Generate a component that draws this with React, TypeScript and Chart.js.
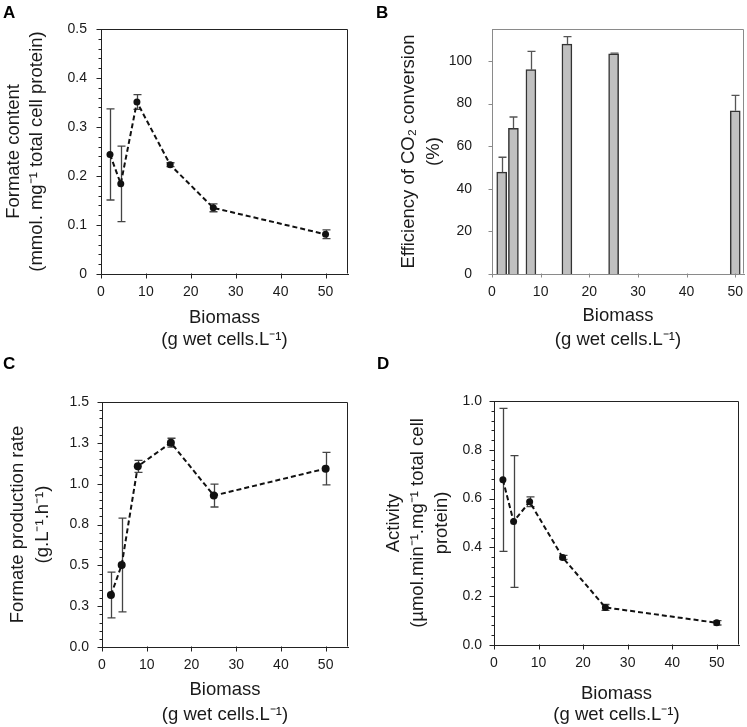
import React, { useEffect, useRef } from "react";
import { Chart, registerables } from "chart.js";

Chart.register(...registerables);

const FONT = "'Liberation Sans', Arial, Helvetica, sans-serif";
const TEXT = "#1a1a1a";

// ---- data ----
const biomass = [2, 4.4, 8, 15.4, 25, 50];
const formateContent = [0.244, 0.184, 0.351, 0.223, 0.135, 0.081];
const formateContentErr = [0.093, 0.077, 0.015, 0.004, 0.008, 0.009];
const efficiency = [47.8, 68.4, 95.9, 107.9, 103.4, 76.6];
const efficiencyErr = [7.0, 5.3, 8.6, 3.5, 0.3, 7.2];
const productionRate = [0.318, 0.502, 1.106, 1.251, 0.927, 1.092];
const productionRateErr = [0.14, 0.287, 0.037, 0.027, 0.07, 0.1];
const activity = [0.677, 0.506, 0.587, 0.359, 0.154, 0.091];
const activityErr = [0.293, 0.27, 0.02, 0.008, 0.012, 0.009];

// ---- tick labels ----
const xTickLabels = ["0", "10", "20", "30", "40", "50"];
const contentTickLabels = ["0", "0.1", "0.2", "0.3", "0.4", "0.5"];
const efficiencyTickLabels = ["0", "20", "40", "60", "80", "100"];
const rateTickLabels = ["0.0", "0.3", "0.5", "0.8", "1.0", "1.3", "1.5"];
const activityTickLabels = ["0.0", "0.2", "0.4", "0.6", "0.8", "1.0"];

// ---- titles ----
const xTitle = ["Biomass", "(g wet cells.L\u207B\u00B9)"];
const contentTitle = ["Formate content", "(mmol. mg\u207B\u00B9 total cell protein)"];
const efficiencyTitle = ["Efficiency of CO\u2082 conversion", "(%)"];
const rateTitle = ["Formate production rate", "(g.L\u207B\u00B9.h\u207B\u00B9)"];
const activityTitle = ["Activity", "(\u00B5mol.min\u207B\u00B9.mg\u207B\u00B9 total cell", "protein)"];

type Spec = {
  letter: string;
  left: number;
  top: number;
  w: number;
  h: number;
  area: { l: number; t: number; r: number; b: number };
  kind: "line" | "bar";
  values: number[];
  errors: number[];
  frame: string;
  errColor: string;
  pointRadius: number;
  xMax: number;
  yMax: number;
  yStep: number;
  yMajorEvery: number;
  yLabels: string[];
  yMajorLen: number;
  yMinorLen: number;
  yGap: number;
  xTickLen: number;
  xGap: number;
  yTitle: string[];
  yTitleLH: number;
  yTitlePad: number;
  xTitleLH: number;
  xTitlePad: number;
  letterTop: number;
  letterLeft: number;
};

function errorBarPlugin(spec: Spec) {
  const draw = (chart: any) => {
    const xs = chart.scales.x;
    const ys = chart.scales.y;
    const ctx = chart.ctx;
    const half = 4;
    ctx.save();
    ctx.strokeStyle = spec.errColor;
    ctx.lineWidth = 1.3;
    spec.values.forEach((v, i) => {
      const e = spec.errors[i];
      const x = Math.round(xs.getPixelForValue(biomass[i])) + 0.5;
      const yTop = ys.getPixelForValue(v + e);
      const yBot = ys.getPixelForValue(spec.kind === "bar" ? v : v - e);
      ctx.beginPath();
      ctx.moveTo(x, yTop);
      ctx.lineTo(x, yBot);
      ctx.moveTo(x - half, yTop);
      ctx.lineTo(x + half, yTop);
      if (spec.kind !== "bar") {
        ctx.moveTo(x - half, yBot);
        ctx.lineTo(x + half, yBot);
      }
      ctx.stroke();
    });
    ctx.restore();
  };
  return spec.kind === "bar"
    ? { id: "errorBars", afterDatasetsDraw: draw }
    : { id: "errorBars", beforeDatasetsDraw: draw };
}

// frame on top/right plus the axis tick marks (major and minor), placed with the chart's scales
function framePlugin(spec: Spec) {
  return {
    id: "frame",
    afterDatasetsDraw(chart: any) {
      const { left, right, top, bottom } = chart.chartArea;
      const ctx = chart.ctx;
      const xs = chart.scales.x;
      const ys = chart.scales.y;
      ctx.save();
      ctx.strokeStyle = spec.frame;
      ctx.lineWidth = 1;
      const t = Math.round(top) + 0.5;
      const r = Math.round(right) - 0.5;
      const l = Math.round(left) + 0.5;
      const b = Math.round(bottom) - 0.5;
      ctx.beginPath();
      ctx.moveTo(l, t);
      ctx.lineTo(r, t);
      ctx.lineTo(r, b);
      ctx.stroke();
      // y ticks
      ctx.beginPath();
      ys.ticks.forEach((tk: any, i: number) => {
        const y = Math.round(ys.getPixelForValue(tk.value)) + 0.5;
        const len = i % spec.yMajorEvery === 0 ? spec.yMajorLen : spec.yMinorLen;
        ctx.moveTo(l, y);
        ctx.lineTo(l - len, y);
      });
      // x ticks
      xs.ticks.forEach((tk: any) => {
        const x = Math.round(xs.getPixelForValue(tk.value)) + 0.5;
        ctx.moveTo(x, b);
        ctx.lineTo(x, b + spec.xTickLen);
      });
      ctx.stroke();
      ctx.restore();
    },
  };
}

function buildConfig(s: Spec): any {
  const points = biomass.map((x, i) => ({ x, y: s.values[i] }));
  const ds: any =
    s.kind === "line"
      ? {
          type: "line",
          data: points,
          borderColor: "#111",
          borderWidth: 2,
          borderDash: [5, 3],
          pointRadius: s.pointRadius,
          pointBackgroundColor: "#111",
          pointBorderColor: "#111",
          pointBorderWidth: 0,
          tension: 0,
          fill: false,
        }
      : {
          type: "bar",
          data: points,
          backgroundColor: "#c0c0c0",
          borderColor: "#333",
          borderWidth: 1.5,
          barThickness: 10,
        };
  return {
    type: s.kind,
    data: { datasets: [ds] },
    options: {
      responsive: false,
      maintainAspectRatio: false,
      animation: false,
      layout: { padding: { left: 0, top: s.area.t, right: s.w - s.area.r, bottom: 0 } },
      plugins: { legend: { display: false }, tooltip: { enabled: false } },
      scales: {
        x: {
          type: "linear",
          min: 0,
          max: s.xMax,
          offset: false,
          ticks: {
            stepSize: 10,
            includeBounds: false,
            autoSkip: false,
            maxRotation: 0,
            padding: s.xGap,
            color: TEXT,
            font: { family: FONT, size: 14 },
            callback: (_v: any, i: number) => xTickLabels[i] ?? "",
          },
          grid: { display: false, drawTicks: false, offset: false },
          border: { display: true, color: s.frame, width: 1 },
          title: {
            display: true,
            text: xTitle,
            color: TEXT,
            font: { family: FONT, size: 18.5, lineHeight: s.xTitleLH + "px" },
            padding: { top: 0, bottom: s.xTitlePad },
          },
          afterFit: (sc: any) => {
            sc.height = s.h - s.area.b;
            sc.paddingLeft = 0;
            sc.paddingRight = 0;
            sc.paddingTop = 0;
            sc.paddingBottom = 0;
          },
        },
        y: {
          type: "linear",
          min: 0,
          max: s.yMax,
          ticks: {
            stepSize: s.yStep,
            includeBounds: false,
            autoSkip: false,
            padding: s.yGap,
            color: TEXT,
            font: { family: FONT, size: 14 },
            callback: (_v: any, i: number) =>
              i % s.yMajorEvery === 0 ? s.yLabels[i / s.yMajorEvery] ?? "" : "",
          },
          grid: { display: false, drawTicks: false },
          border: { display: true, color: s.frame, width: 1 },
          title: {
            display: true,
            text: s.yTitle,
            color: TEXT,
            font: { family: FONT, size: 18.5, lineHeight: s.yTitleLH + "px" },
            padding: { top: s.yTitlePad, bottom: 0 },
          },
          afterFit: (sc: any) => {
            sc.width = s.area.l;
            sc.paddingLeft = 0;
            sc.paddingRight = 0;
            sc.paddingTop = 0;
            sc.paddingBottom = 0;
          },
        },
      },
    },
    plugins: [errorBarPlugin(s), framePlugin(s)],
  };
}

const specs: Spec[] = [
  {
    letter: "A", left: 0, top: 0, w: 373, h: 360,
    area: { l: 101, t: 29, r: 348, b: 274 },
    kind: "line", values: formateContent, errors: formateContentErr,
    frame: "#222", errColor: "#444", pointRadius: 3.5,
    xMax: 55, yMax: 0.5, yStep: 0.02, yMajorEvery: 5, yLabels: contentTickLabels,
    yMajorLen: 5, yMinorLen: 3, yGap: 14, xTickLen: 5, xGap: 10,
    yTitle: contentTitle, yTitleLH: 23, yTitlePad: 2,
    xTitleLH: 22, xTitlePad: 9.5,
    letterTop: 4, letterLeft: 3,
  },
  {
    letter: "B", left: 373, top: 0, w: 374, h: 360,
    area: { l: 119, t: 29, r: 371, b: 274 },
    kind: "bar", values: efficiency, errors: efficiencyErr,
    frame: "#8a8a8a", errColor: "#555", pointRadius: 0,
    xMax: 51.8, yMax: 115, yStep: 20, yMajorEvery: 1, yLabels: efficiencyTickLabels,
    yMajorLen: 4, yMinorLen: 4, yGap: 20, xTickLen: 4, xGap: 10,
    yTitle: efficiencyTitle, yTitleLH: 25, yTitlePad: 23.5,
    xTitleLH: 24, xTitlePad: 8.5,
    letterTop: 4, letterLeft: 376,
  },
  {
    letter: "C", left: 0, top: 360, w: 373, h: 367,
    area: { l: 102, t: 42, r: 348, b: 287 },
    kind: "line", values: productionRate, errors: productionRateErr,
    frame: "#222", errColor: "#444", pointRadius: 4,
    xMax: 55, yMax: 1.5, yStep: 0.05, yMajorEvery: 5, yLabels: rateTickLabels,
    yMajorLen: 5, yMinorLen: 3, yGap: 13, xTickLen: 5, xGap: 10,
    yTitle: rateTitle, yTitleLH: 25, yTitlePad: 5,
    xTitleLH: 25, xTitlePad: 0,
    letterTop: 355, letterLeft: 3,
  },
  {
    letter: "D", left: 373, top: 360, w: 374, h: 367,
    area: { l: 121, t: 41, r: 366, b: 285 },
    kind: "line", values: activity, errors: activityErr,
    frame: "#222", errColor: "#444", pointRadius: 3.5,
    xMax: 55, yMax: 1.0, yStep: 0.04, yMajorEvery: 5, yLabels: activityTickLabels,
    yMajorLen: 5, yMinorLen: 3, yGap: 12, xTickLen: 5, xGap: 10,
    yTitle: activityTitle, yTitleLH: 24, yTitlePad: 8.5,
    xTitleLH: 21, xTitlePad: 2,
    letterTop: 355, letterLeft: 377,
  },
];

function Panel({ spec }: { spec: Spec }) {
  const ref = useRef<HTMLCanvasElement | null>(null);
  useEffect(() => {
    if (!ref.current) return;
    const chart = new Chart(ref.current, buildConfig(spec));
    return () => chart.destroy();
  }, [spec]);
  return (
    <canvas
      ref={ref}
      width={spec.w}
      height={spec.h}
      style={{
        position: "absolute",
        left: spec.left,
        top: spec.top,
        width: spec.w,
        height: spec.h,
      }}
    />
  );
}

export default function App() {
  return (
    <div
      style={{
        position: "absolute",
        left: 0,
        top: 0,
        width: 747,
        height: 727,
        background: "#fff",
        overflow: "hidden",
      }}
    >
      {specs.map((s) => (
        <Panel key={s.letter} spec={s} />
      ))}
      {specs.map((s) => (
        <div
          key={"l" + s.letter}
          style={{
            position: "absolute",
            left: s.letterLeft,
            top: s.letterTop,
            fontFamily: FONT,
            fontWeight: "bold",
            fontSize: 17,
            lineHeight: "17px",
            color: "#000",
            zIndex: 2,
          }}
        >
          {s.letter}
        </div>
      ))}
    </div>
  );
}
